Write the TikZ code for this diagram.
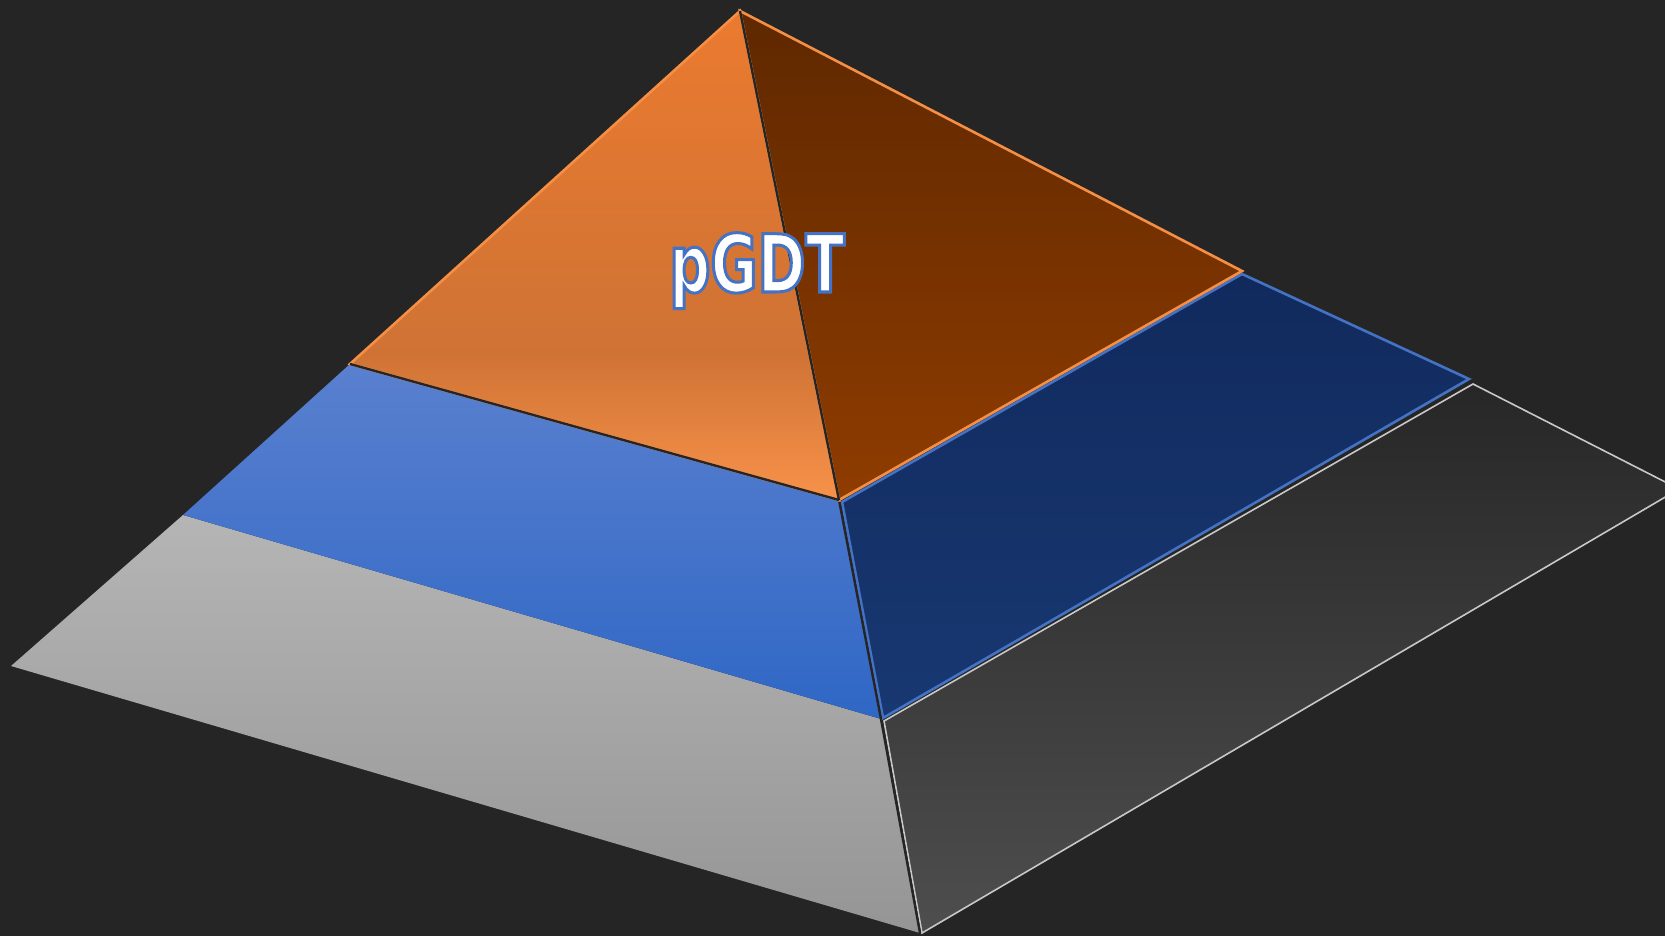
\documentclass[tikz,border=0pt]{standalone}
\usepackage{fontspec}
\newfontfamily\labelfont[FakeStretch=0.8]{DejaVu Sans Condensed Bold}

\definecolor{bgdark}{HTML}{252525}
\definecolor{orangetop}{HTML}{EB7A2F}
\definecolor{orangemid}{HTML}{CF7335}
\definecolor{orangebot}{HTML}{F8924A}
\definecolor{rusttop}{HTML}{5F2800}
\definecolor{rustbot}{HTML}{8F3C00}
\definecolor{bluetop}{HTML}{5A80CF}
\definecolor{bluebot}{HTML}{2F67C5}
\definecolor{navytop}{HTML}{112A5D}
\definecolor{navybot}{HTML}{183872}
\definecolor{greytop}{HTML}{B5B5B5}
\definecolor{greybot}{HTML}{959595}
\definecolor{coaltop}{HTML}{272727}
\definecolor{coalbot}{HTML}{4E4E4E}
\definecolor{orangeedge}{HTML}{F58F45}
\definecolor{blueedge}{HTML}{4472C4}
\definecolor{greyedge}{HTML}{C8C8C8}

\pgfdeclareverticalshading{orangeface}{100bp}{color(0bp)=(orangebot); color(25bp)=(orangebot);
  color(40bp)=(orangemid); color(75bp)=(orangetop); color(100bp)=(orangetop)}

% white letters with a blue rim
\newcommand{\rimtext}[1]{\special{pdf:literal direct 2 Tr 1.5 w 0.267 0.447 0.769 RG}#1\special{pdf:literal direct 0 Tr}}

\tikzset{
  face/.style={line width=1.3pt, line join=miter},
  seam/.style={draw=bgdark, line width=1.2pt}
}

\begin{document}
\begin{tikzpicture}[x=0.5pt, y=-0.5pt]
    \fill[bgdark] (0,0) rectangle (1665,936);
    \useasboundingbox (0,0) rectangle (1665,936);
    \clip (0,0) rectangle (1665,936);

    % top tier
    \coordinate (apex) at (740,11);
    \coordinate (o1) at (350,364);
    \coordinate (o2) at (839,500);
    \coordinate (o3) at (1242,271);
    % middle tier
    \coordinate (b1) at (183,515);
    \coordinate (b2) at (881,719);
    \coordinate (b3) at (842,502);
    \coordinate (b4) at (1242,274);
    \coordinate (b5) at (1469,379);
    \coordinate (b6) at (883,718);
    % bottom tier
    \coordinate (g1) at (11,666);
    \coordinate (g2) at (920,933);
    \coordinate (g3) at (884,721);
    \coordinate (g4) at (1473,384);
    \coordinate (g5) at (1679,489);
    \coordinate (g6) at (922,933);

    \shade[face, top color=greytop, bottom color=greybot]
      (b1) -- (b2) -- (g2) -- (g1) -- cycle;
    \shade[face, draw=greyedge, line width=0.8pt, top color=coaltop, bottom color=coalbot]
      (g3) -- (g4) -- (g5) -- (g6) -- cycle;
    \draw[seam] (b2) -- (g2);

    \shade[face, top color=bluetop, bottom color=bluebot]
      (o1) -- (o2) -- (b2) -- (b1) -- cycle;
    \shade[face, draw=blueedge, top color=navytop, bottom color=navybot]
      (b3) -- (b4) -- (b5) -- (b6) -- cycle;
    \draw[seam] (o2) -- (b2);

    \shade[face, draw=orangeedge, shading=orangeface]
      (apex) -- (o2) -- (o1) -- cycle;
    \shade[face, draw=orangeedge, top color=rusttop, bottom color=rustbot]
      (apex) -- (o3) -- (o2) -- cycle;
    \draw[seam] (apex) -- (o2);
    \draw[seam] (o1) -- (o2);

    \node[anchor=base, text=white] (title) at (757,292)
      {\labelfont\fontsize{40}{40}\selectfont\rimtext{pGDT}};
\end{tikzpicture}
\end{document}
